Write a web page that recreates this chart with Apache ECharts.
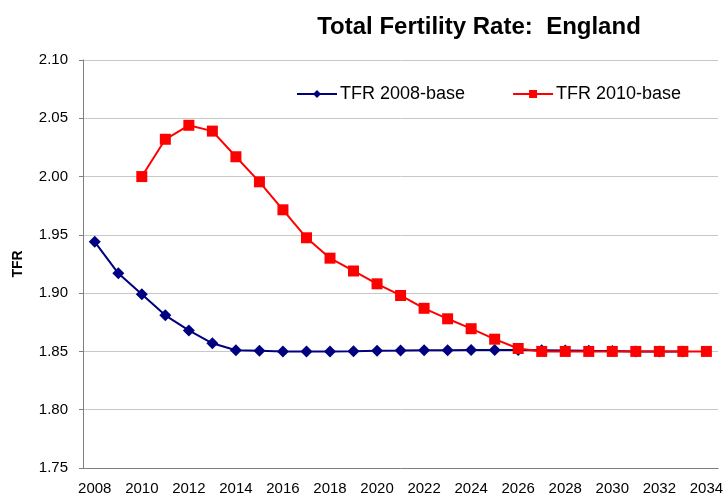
<!DOCTYPE html>
<html>
<head>
<meta charset="utf-8">
<script src="https://cdn.jsdelivr.net/npm/echarts@6/dist/echarts.min.js"></script>
<style>
  html, body { margin: 0; padding: 0; background: #fff; }
  #chart { width: 726px; height: 497px; }
</style>
</head>
<body>
<div id="chart"></div>
<script>
// years on the x axis
const years = []
for (let y = 2008; y <= 2034; y++) years.push(String(y))

// TFR 2008-base, 2008..2033
const tfr2008 = [1.944, 1.917, 1.899, 1.881, 1.868, 1.857, 1.851, 1.8505, 1.850, 1.850,
  1.850, 1.8502, 1.8505, 1.8507, 1.851, 1.851, 1.8512, 1.8513, 1.8512, 1.851,
  1.8508, 1.8505, 1.8503, 1.850, 1.850, 1.850]

// TFR 2010-base, 2010..2034
const tfr2010 = [null, null, 2.000, 2.032, 2.044, 2.039, 2.017, 1.9955, 1.9715, 1.9475,
  1.930, 1.919, 1.908, 1.898, 1.887, 1.878, 1.8695, 1.8605, 1.8525, 1.850,
  1.850, 1.850, 1.850, 1.850, 1.850, 1.850, 1.850]

const font = 'Liberation Sans, Arial, sans-serif'

const myCharts = echarts.init(document.getElementById('chart'))
myCharts.setOption({
  animation: false,
  title: {
    text: 'Total Fertility Rate:  England',
    left: 474,
    textAlign: 'center',
    top: 10,
    textStyle: { fontFamily: font, fontSize: 24, fontWeight: 'bold', color: '#000' }
  },
  legend: {
    top: 80,
    left: 291,
    itemGap: 47,
    itemWidth: 40,
    itemHeight: 10,
    textStyle: { fontFamily: font, fontSize: 18, color: '#000', padding: [0, 0, 0, -2] },
    data: ['TFR 2008-base', 'TFR 2010-base']
  },
  grid: { left: 83, right: 4, top: 60, bottom: 29 },
  xAxis: {
    type: 'category',
    data: years,
    boundaryGap: true,
    axisLine: { lineStyle: { color: '#808080', width: 1 } },
    axisTick: { interval: 0, length: 5, lineStyle: { color: '#808080' } },
    axisLabel: { interval: 1, fontFamily: font, fontSize: 15, color: '#000', margin: 13 },
    splitLine: { show: false }
  },
  yAxis: {
    type: 'value',
    min: 1.75,
    max: 2.10,
    interval: 0.05,
    name: 'TFR',
    nameLocation: 'middle',
    nameGap: 58,
    nameTextStyle: { fontFamily: font, fontSize: 14, fontWeight: 'bold', color: '#000' },
    axisLine: { show: true, lineStyle: { color: '#808080', width: 1 } },
    axisTick: { show: true, length: 4, lineStyle: { color: '#808080' } },
    axisLabel: { fontFamily: font, fontSize: 15, color: '#000', margin: 15,
      formatter: v => v.toFixed(2) },
    splitLine: { lineStyle: { color: '#c8c8c8', width: 1 } }
  },
  series: [
    {
      name: 'TFR 2008-base',
      type: 'line',
      data: tfr2008,
      symbol: 'diamond',
      symbolSize: 12,
      itemStyle: { color: '#000080' },
      lineStyle: { color: '#000080', width: 2 },
      z: 2
    },
    {
      name: 'TFR 2010-base',
      type: 'line',
      data: tfr2010,
      symbol: 'rect',
      symbolSize: 11,
      itemStyle: { color: '#ff0000' },
      lineStyle: { color: '#ff0000', width: 2 },
      z: 3
    }
  ]
})
</script>
</body>
</html>
